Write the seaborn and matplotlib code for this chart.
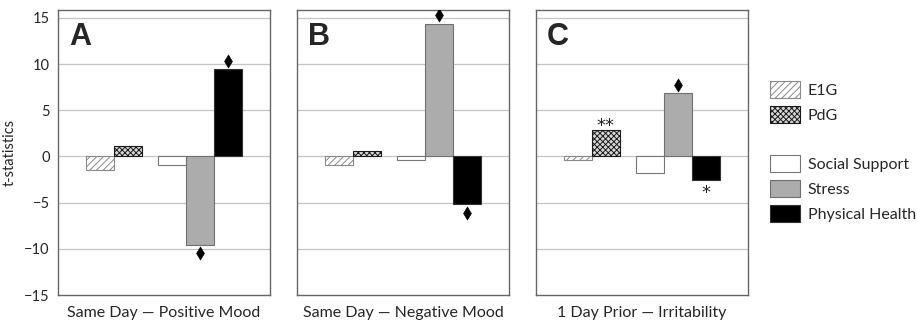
import pandas as pd
import seaborn as sns
import matplotlib.pyplot as plt
from matplotlib.patches import Patch

# Данные
panels = ["A", "B", "C"]
panel_titles = ["Same Day — Positive Mood", "Same Day — Negative Mood", "1 Day Prior — Irritability"]
variables = ["E1G", "PdG", "Social Support", "Stress", "Physical Health"]
positions = [1.5, 2.5, 4.1, 5.1, 6.1]
t_A = [-1.44, 1.08, -0.9, -9.63, 9.46]
t_B = [-0.97, 0.54, -0.39, 14.36, -5.12]
t_C = [-0.36, 2.89, -1.8, 6.89, -2.52]

# Значимость: панель, переменная, символ, уровень
sig_panel = ["A", "A", "B", "B", "C", "C", "C"]
sig_var = ["Physical Health", "Stress", "Stress", "Physical Health", "Stress", "PdG", "Physical Health"]
sig_sym = ["♦", "♦", "♦", "♦", "♦", "**", "*"]
sig_y = [10.35, -10.5, 15.3, -6.1, 7.75, 3.3, -4.0]

face = {"E1G": "white", "PdG": "#d8d8d8", "Social Support": "white",
        "Stress": "#acacac", "Physical Health": "black"}
edge = {"E1G": "#8a8a8a", "PdG": "#1a1a1a", "Social Support": "#777777",
        "Stress": "#707070", "Physical Health": "#333333"}
hatch = {"E1G": "/////", "PdG": "xxxxxx", "Social Support": None,
         "Stress": None, "Physical Health": None}

rows = []
for p, vals in zip(panels, [t_A, t_B, t_C]):
    for v, x, t in zip(variables, positions, vals):
        rows.append({"panel": p, "var": v, "pos": x, "t": t})
df = pd.DataFrame(rows)
sig = pd.DataFrame({"panel": sig_panel, "var": sig_var, "sym": sig_sym, "y": sig_y})
sig["pos"] = sig["var"].map(dict(zip(variables, positions)))

sns.set_style("white")
plt.rcParams["font.family"] = ["Lato", "DejaVu Sans"]
plt.rcParams["hatch.linewidth"] = 0.7

fig = plt.figure(figsize=(9.17, 3.24), dpi=100)
lefts = [0.0632, 0.3239, 0.5845]

for i, p in enumerate(panels):
    ax = fig.add_axes([lefts[i], 0.0895, 0.2312, 0.8796])
    d = df[df["panel"] == p]
    ax.set_axisbelow(True)
    for yv in range(-10, 16, 5):
        ax.axhline(yv, color="#c4c4c4", lw=0.9, zorder=0)
    sns.barplot(data=d, x="pos", y="t", hue="var", hue_order=variables,
                palette=face, native_scale=True, dodge=False, width=1.0,
                legend=False, ax=ax, saturation=1)
    for patch, v in zip(ax.patches, variables):
        patch.set_edgecolor(edge[v])
        patch.set_linewidth(0.8)
        if hatch[v]:
            patch.set_hatch(hatch[v])
    s = sig[(sig["panel"] == p) & (sig["sym"] == "♦")]
    sns.scatterplot(data=s, x="pos", y="y", marker="d", s=45, color="black",
                    edgecolor="black", linewidth=0.4, ax=ax, zorder=5)
    for _, r in sig[(sig["panel"] == p) & (sig["sym"] != "♦")].iterrows():
        ax.text(r["pos"], r["y"], r["sym"], ha="center", va="center",
                fontsize=13, color="#222222", family=["DejaVu Sans"])
    ax.set_xlim(0, 7.6)
    ax.set_ylim(-15, 15.85)
    ax.set_yticks(range(-15, 16, 5))
    ax.set_xticks([])
    ax.set_xlabel(panel_titles[i], fontsize=11.5, labelpad=8)
    if i == 0:
        ax.set_ylabel("t-statistics", fontsize=10.5, labelpad=5)
        ax.tick_params(axis="y", length=0, pad=6, labelsize=10.5)
    else:
        ax.set_ylabel("")
        ax.set_yticklabels([])
        ax.tick_params(axis="y", length=0)
    for sp in ax.spines.values():
        sp.set_color("#666666")
        sp.set_linewidth(1.0)
    ax.text(0.052, 0.877, p, transform=ax.transAxes, fontsize=22,
            fontweight="heavy", family=["Liberation Sans", "DejaVu Sans"],
            va="baseline", ha="left")

# Легенда
h1 = [Patch(facecolor=face[v], edgecolor=edge[v], hatch=hatch[v], lw=0.8, label=v)
      for v in variables[:2]]
h2 = [Patch(facecolor=face[v], edgecolor=edge[v], lw=0.8, label=v)
      for v in variables[2:]]
kw = dict(frameon=False, fontsize=11.5, handlelength=1.85, handleheight=1.25,
          labelspacing=0.5, handletextpad=0.5, borderpad=0, borderaxespad=0)
fig.legend(handles=h1, loc="upper left", bbox_to_anchor=(770 / 917, 1 - 81 / 324), **kw)
fig.legend(handles=h2, loc="upper left", bbox_to_anchor=(770 / 917, 1 - 155 / 324), **kw)

fig.savefig("out.png", dpi=100)
